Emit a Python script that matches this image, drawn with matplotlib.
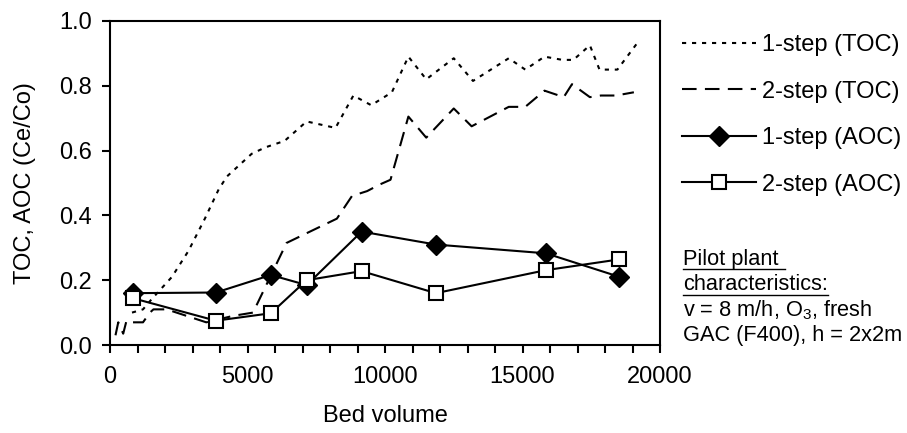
"""GAC breakthrough: TOC and AOC versus bed volume."""
import matplotlib
matplotlib.use('Agg')
import matplotlib.pyplot as plt
from matplotlib.lines import Line2D
from matplotlib.ticker import MultipleLocator, FormatStrFormatter

plt.rcParams['font.family'] = ['Liberation Sans', 'DejaVu Sans']
plt.rcParams['mathtext.fontset'] = 'custom'
plt.rcParams['mathtext.rm'] = 'Liberation Sans'
plt.rcParams['mathtext.it'] = 'Liberation Sans:italic'

FS = 17
NOTE_FS = 15.7

# 1-step (TOC)
toc1_bv = [800, 1200, 1500, 2250, 2850, 3450, 3950, 4250, 5150, 5650, 6350, 7150, 8200, 8850,
           9500, 10250, 10850, 11500, 12500, 13200, 14500, 15100, 15800, 16450, 16850, 17450,
           17800, 18450, 19200]
toc1_val = [0.10, 0.11, 0.14, 0.21, 0.29, 0.39, 0.48, 0.52, 0.59, 0.61, 0.63, 0.69, 0.67, 0.77,
            0.74, 0.78, 0.89, 0.82, 0.885, 0.815, 0.885, 0.85, 0.89, 0.88, 0.88, 0.925,
            0.85, 0.85, 0.935]

# 2-step (TOC)
toc2_bv = [200, 300, 480, 600, 750, 1200, 1450, 1580, 2060, 3500, 4480, 5200, 6420, 7150, 8250,
           8800, 9350, 9800, 10200, 10850, 11500, 12500, 13150, 14500, 15100, 15800, 16500,
           16800, 17450, 17850, 18400, 19050]
toc2_val = [0.03, 0.07, 0.035, 0.075, 0.07, 0.07, 0.10, 0.11, 0.11, 0.07, 0.09, 0.10, 0.315,
            0.345, 0.39, 0.46, 0.475, 0.495, 0.51, 0.705, 0.64, 0.73, 0.675, 0.735, 0.735,
            0.785, 0.765, 0.805, 0.765, 0.77, 0.77, 0.78]

# AOC samples
aoc_bv = [850, 3850, 5850, 7150, 9150, 11850, 15850, 18500]
aoc1_val = [0.16, 0.162, 0.216, 0.185, 0.35, 0.31, 0.283, 0.211]
aoc2_val = [0.144, 0.075, 0.098, 0.20, 0.228, 0.16, 0.231, 0.264]

note_lines = ['Pilot plant ', 'characteristics:', 'v = 8 m/h, O$_3$, fresh',
              'GAC (F400), h = 2x2m']

W, H = 907, 433
fig = plt.figure(figsize=(W / 100, H / 100), dpi=100)
ax = fig.add_axes([110 / W, 1 - 345 / H, 550 / W, 324 / H])

lw = 1.5
l1, = ax.plot(toc1_bv, toc1_val, color='black', lw=lw, dashes=(2, 2.8), label='1-step (TOC)')
l2, = ax.plot(toc2_bv, toc2_val, color='black', lw=lw, dashes=(7, 4), label='2-step (TOC)')
l3, = ax.plot(aoc_bv, aoc1_val, color='black', lw=lw, marker='D', ms=10,
              mfc='black', mec='black', label='1-step (AOC)')
l4, = ax.plot(aoc_bv, aoc2_val, color='black', lw=lw, marker='s', ms=9.5,
              mfc='white', mec='black', mew=1.5, label='2-step (AOC)')

ax.set_xlim(0, 20000)
ax.set_ylim(0, 1.0)
ax.xaxis.set_major_locator(MultipleLocator(5000))
ax.xaxis.set_minor_locator(MultipleLocator(1000))
ax.yaxis.set_major_locator(MultipleLocator(0.2))
ax.yaxis.set_major_formatter(FormatStrFormatter('%.1f'))
ax.tick_params(axis='both', which='both', direction='out', width=1.5, labelsize=FS,
               top=False, right=False)
ax.tick_params(axis='x', which='both', length=6, pad=9)
ax.tick_params(axis='y', which='major', length=6, pad=7)
for s in ax.spines.values():
    s.set_linewidth(1.5)

ax.set_xlabel('Bed volume', fontsize=FS, labelpad=12)
ax.set_ylabel('TOC, AOC (Ce/Co)', fontsize=FS)
ax.yaxis.set_label_coords(-0.135, 0.5)

fig.legend(handles=[l1, l2, l3, l4], loc='upper left',
           bbox_to_anchor=(682 / W, 1 - 34 / H), bbox_transform=fig.transFigure,
           frameon=False, fontsize=FS, handlelength=3.15, handletextpad=0.25,
           labelspacing=1.04, borderpad=0, borderaxespad=0, numpoints=1)

# note block, first two lines underlined
renderer = fig.canvas.get_renderer()
base0 = 265
for i, txt in enumerate(note_lines):
    yb = base0 + i * 25.5
    t = fig.text(683 / W, 1 - yb / H, txt, fontsize=NOTE_FS, va='baseline', ha='left')
    if i < 2:
        bb = t.get_window_extent(renderer)
        yl = 1 - (yb + 4) / H
        fig.add_artist(Line2D([bb.x0 / W, bb.x1 / W], [yl, yl], color='black',
                              lw=1.0, transform=fig.transFigure))

fig.savefig('out.png', dpi=100)
